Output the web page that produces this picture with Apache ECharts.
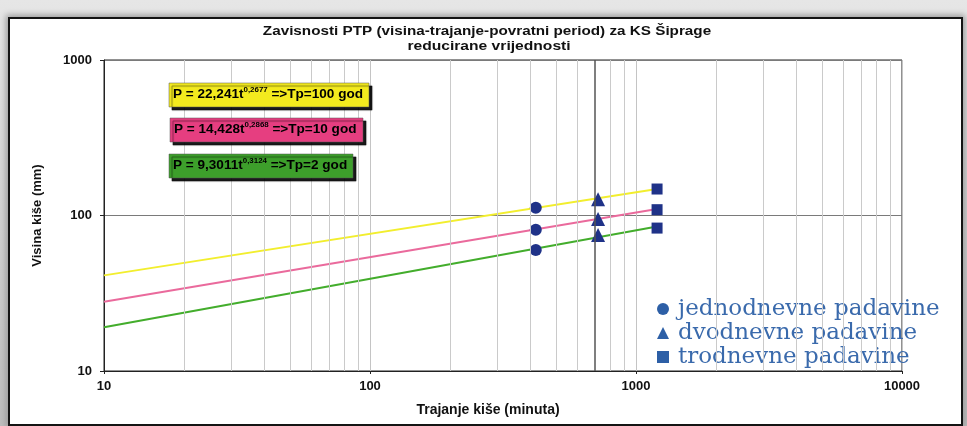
<!DOCTYPE html>
<html lang="bs">
<head>
    <meta charset="UTF-8">
    <title>Zavisnosti PTP</title>
    <style>
        *{
            margin: 0;
            padding: 0;
        }
        body{
            width: 967px;
            height: 426px;
            overflow: hidden;
            background: linear-gradient(to bottom, #e6e6e6, #bdbdbd);
        }
        #frame{
            position: absolute;
            left: 8px;
            top: 17px;
            width: 951px;
            height: 405px;
            border: 2px solid #141414;
            background: #fff;
            box-shadow: 0 0 6px 2px #9a9a9a;
        }
        #main{
            position: absolute;
            left: 0;
            top: 0;
            width: 967px;
            height: 426px;
        }
    </style>
</head>
<body>
<div id="frame"></div>
<div id="main"></div>
<script src="https://cdn.jsdelivr.net/npm/echarts@6/dist/echarts.min.js"></script>
<script type="text/javascript">
    // trajanje (minuta) - tanke vertikalne linije mreze
    var minorX = [20, 30, 40, 50, 60, 70, 80, 90,
        200, 300, 400, 500, 600, 700, 800, 900,
        2000, 3000, 4000, 5000, 6000, 7000, 8000, 9000];

    // PTP krive, krajnje tacke (t, P)
    var lineX = [10, 1200];
    var tp100 = [41.2, 148];
    var tp10 = [27.9, 110];
    var tp2 = [19.1, 85];

    // izmjerene padavine
    var jednoX = 420;
    var jednoY = [112, 81, 60];
    var dvoX = 720;
    var dvoY = [127, 95, 75];
    var troX = 1200;
    var troY = [148, 109, 83];

    var formule = [
        {a: 'P = 22,241t', s: '0,2677', b: ' =>Tp=100 god', color: '#f3ea1e'},
        {a: 'P = 14,428t', s: '0,2868', b: ' =>Tp=10 god', color: '#e63e80'},
        {a: 'P = 9,3011t', s: '0,3124', b: ' =>Tp=2 god', color: '#3d9f2b'}
    ];

    function pairs(xs, ys){
        var out = [];
        for(var i = 0; i < xs.length; i++){
            out.push([xs[i], ys[i]]);
        }
        return out;
    }
    function column(x, ys){
        return ys.map(function(y){ return [x, y]; });
    }

    var fontAx = 'Liberation Sans, Arial, sans-serif';

    var graphics = [
        {
            type: 'text', x: 487, y: 32, scaleX: 1.22, z: 10,
            style: {text: 'Zavisnosti PTP (visina-trajanje-povratni period) za KS Šiprage',
                align: 'center', verticalAlign: 'middle', fill: '#111',
                font: 'bold 12.5px ' + fontAx}
        },
        {
            type: 'text', x: 489, y: 47, scaleX: 1.25, z: 10,
            style: {text: 'reducirane vrijednosti',
                align: 'center', verticalAlign: 'middle', fill: '#111',
                font: 'bold 12.5px ' + fontAx}
        }
    ];

    var boxes = [[169, 83, 200], [170, 118, 193], [169, 154, 184]];
    formule.forEach(function(f, i){
        var b = boxes[i];
        graphics.push({
            type: 'rect',
            z: 10,
            shape: {x: b[0], y: b[1], width: b[2], height: 24},
            style: {fill: f.color, stroke: '#555', lineWidth: 0.5,
                shadowColor: 'rgba(0,0,0,0.9)', shadowOffsetX: 3, shadowOffsetY: 3, shadowBlur: 1}
        });
        graphics.push({
            type: 'text',
            z: 11,
            x: b[0] + 4,
            y: b[1] + 12,
            scaleX: 1.13,
            style: {
                text: '{a|' + f.a + '}{s|' + f.s + '}{a|' + f.b + '}',
                verticalAlign: 'middle',
                rich: {
                    a: {fontSize: 12, fontWeight: 'bold', fill: '#000', lineHeight: 16, fontFamily: fontAx},
                    s: {fontSize: 7, fontWeight: 'bold', fill: '#000', lineHeight: 9, verticalAlign: 'top',
                        fontFamily: fontAx}
                }
            }
        });
    });

    var myChart = echarts.init(document.getElementById('main'));
    myChart.setOption({
        animation: false,
        legend: {
            orient: 'vertical',
            left: 652,
            top: 292,
            itemGap: 0,
            itemWidth: 12,
            itemHeight: 12,
            textStyle: {fontFamily: 'DejaVu Serif, serif', fontSize: 23, color: '#3a6aac', lineHeight: 24,
                padding: [0, 0, 0, 4]},
            data: [
                {name: 'jednodnevne padavine', icon: 'circle', itemStyle: {color: '#2d5fa6'}},
                {name: 'dvodnevne padavine', icon: 'triangle', itemStyle: {color: '#2d5fa6'}},
                {name: 'trodnevne padavine', icon: 'rect', itemStyle: {color: '#2d5fa6'}}
            ]
        },
        grid: {
            left: 104,
            right: 65,
            top: 60,
            bottom: 55,
            show: true,
            borderColor: '#222',
            borderWidth: 1
        },
        xAxis: {
            type: 'log',
            logBase: 10,
            min: 10,
            max: 10000,
            name: 'Trajanje kiše (minuta)',
            nameLocation: 'middle',
            nameGap: 32,
            nameTextStyle: {fontSize: 14, fontWeight: 'bold', color: '#111', fontFamily: fontAx, padding: [0, 30, 0, 0]},
            axisLine: {lineStyle: {color: '#222'}},
            axisTick: {length: 3, lineStyle: {color: '#222'}},
            axisLabel: {
                margin: 9,
                fontSize: 13,
                fontWeight: 'bold',
                color: '#111',
                fontFamily: fontAx,
                formatter: function(v){ return String(Math.round(v)); }
            },
            splitLine: {show: true, lineStyle: {color: '#c4c4c4', width: 1}}
        },
        yAxis: {
            type: 'log',
            logBase: 10,
            min: 10,
            max: 1000,
            name: 'Visina kiše (mm)',
            nameLocation: 'middle',
            nameGap: 60,
            nameTextStyle: {fontSize: 13, fontWeight: 'bold', color: '#111', fontFamily: fontAx},
            axisLine: {show: true, lineStyle: {color: '#222'}},
            axisTick: {show: true, length: 4, lineStyle: {color: '#222'}},
            axisLabel: {
                margin: 12,
                fontSize: 13,
                fontWeight: 'bold',
                color: '#111',
                fontFamily: fontAx,
                formatter: function(v){ return String(Math.round(v)); }
            },
            splitLine: {show: true, lineStyle: {color: '#7a7a7a', width: 1}}
        },
        graphic: graphics,
        series: [
            {
                name: 'Tp=100',
                type: 'line',
                symbol: 'none',
                color: '#f2ee2e',
                lineStyle: {width: 2},
                z: 3,
                data: pairs(lineX, tp100),
                markLine: {
                    silent: true,
                    symbol: 'none',
                    label: {show: false},
                    lineStyle: {color: '#cacaca', width: 1, type: 'solid'},
                    data: minorX.map(function(v){
                        return v === 700 ? {xAxis: v, lineStyle: {color: '#555', width: 1.5}} : {xAxis: v};
                    })
                }
            },
            {
                name: 'Tp=10',
                type: 'line',
                symbol: 'none',
                color: '#ea6a9c',
                lineStyle: {width: 2},
                z: 3,
                data: pairs(lineX, tp10)
            },
            {
                name: 'Tp=2',
                type: 'line',
                symbol: 'none',
                color: '#43ad2c',
                lineStyle: {width: 2},
                z: 3,
                data: pairs(lineX, tp2)
            },
            {
                name: 'jednodnevne padavine',
                type: 'scatter',
                symbol: 'circle',
                symbolSize: 12,
                itemStyle: {color: '#1f3288', opacity: 1},
                z: 4,
                data: column(jednoX, jednoY)
            },
            {
                name: 'dvodnevne padavine',
                type: 'scatter',
                symbol: 'triangle',
                symbolSize: 14,
                itemStyle: {color: '#1f3288', opacity: 1},
                z: 4,
                data: column(dvoX, dvoY)
            },
            {
                name: 'trodnevne padavine',
                type: 'scatter',
                symbol: 'rect',
                symbolSize: 11,
                itemStyle: {color: '#1f3288', opacity: 1},
                z: 4,
                data: column(troX, troY)
            }
        ]
    });
</script>
</body>
</html>
